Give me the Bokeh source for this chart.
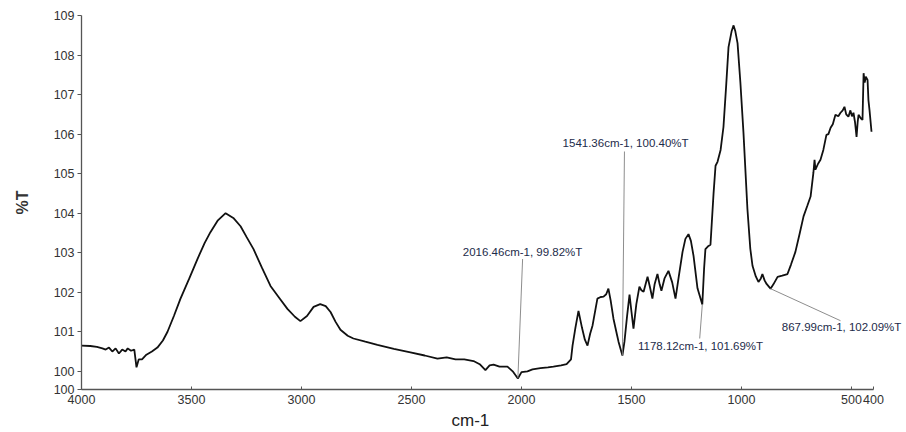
from bokeh.plotting import figure
from bokeh.models import Range1d, FixedTicker, PrintfTickFormatter, Label
from bokeh.embed import file_html
from bokeh.resources import INLINE

# ---- spectrum data (wavenumber cm-1, %T) ----
wavenumber = [
    4000, 3960, 3930, 3905, 3890, 3875, 3860, 3845, 3830, 3815, 3800, 3790, 3775, 3760,
    3750, 3740, 3725, 3705, 3680, 3655, 3630, 3609, 3580, 3550, 3510, 3473, 3440, 3414,
    3380, 3345, 3310, 3277, 3250, 3218, 3180, 3141, 3100, 3064, 3030, 3005, 2975, 2945,
    2915, 2890, 2868, 2845, 2823, 2790, 2764, 2710, 2655, 2580, 2505, 2440, 2382, 2340,
    2300, 2260, 2218, 2190, 2164, 2145, 2127, 2100, 2064, 2040, 2016.46, 2000, 1973, 1950,
    1914, 1880, 1855, 1820, 1795, 1775, 1768, 1755, 1741, 1725, 1712, 1700, 1688, 1677,
    1655, 1640, 1627, 1615, 1605, 1595, 1582, 1565, 1559, 1541.36, 1532, 1520, 1509, 1500,
    1491, 1478, 1464, 1455, 1445, 1427, 1415, 1405, 1395, 1382, 1372, 1364, 1350, 1332,
    1315, 1300, 1285, 1268, 1255, 1241, 1230, 1218, 1200, 1178.12, 1170, 1164, 1150, 1141,
    1127, 1118, 1109, 1095, 1082, 1070, 1059, 1045, 1036, 1028, 1018, 1005, 991, 973,
    960, 950, 935, 923, 912, 905, 895, 886, 867.99, 855, 836, 815, 791, 775,
    755, 735, 718, 700, 686, 673, 668, 664, 652, 641, 628, 614, 605, 595,
    585, 573, 560, 550, 540, 532, 524, 514, 505, 498, 491, 484, 477, 472,
    468, 458, 450, 445, 440, 435, 427, 423, 418, 409,
]
transmittance = [
    100.65, 100.64, 100.62, 100.58, 100.55, 100.60, 100.50, 100.58, 100.45, 100.55, 100.50, 100.58, 100.52, 100.55,
    100.10, 100.30, 100.30, 100.42, 100.50, 100.60, 100.78, 101.00, 101.40, 101.84, 102.35, 102.84, 103.25, 103.52,
    103.82, 104.00, 103.88, 103.67, 103.40, 103.09, 102.62, 102.16, 101.85, 101.58, 101.38, 101.27, 101.40, 101.63,
    101.70, 101.65, 101.50, 101.25, 101.05, 100.90, 100.83, 100.75, 100.67, 100.57, 100.48, 100.40, 100.32, 100.35,
    100.30, 100.30, 100.26, 100.18, 100.03, 100.15, 100.17, 100.12, 100.12, 100.00, 99.82, 99.98, 100.00, 100.05,
    100.08, 100.10, 100.12, 100.15, 100.18, 100.30, 100.65, 101.10, 101.53, 101.10, 100.80, 100.65, 100.95, 101.16,
    101.84, 101.88, 101.89, 101.95, 102.09, 101.80, 101.33, 100.90, 100.75, 100.40, 100.75, 101.40, 101.94, 101.50,
    101.08, 101.70, 102.14, 102.05, 102.01, 102.39, 102.10, 101.84, 102.20, 102.46, 102.20, 102.04, 102.35, 102.54,
    102.25, 101.84, 102.40, 103.02, 103.35, 103.47, 103.30, 102.92, 102.10, 101.69, 102.60, 103.09, 103.17, 103.20,
    104.50, 105.20, 105.30, 105.60, 106.18, 107.20, 108.20, 108.60, 108.75, 108.60, 108.30, 107.30, 106.03, 104.10,
    103.10, 102.67, 102.40, 102.26, 102.35, 102.46, 102.30, 102.21, 102.09, 102.20, 102.39, 102.42, 102.46, 102.70,
    103.02, 103.50, 103.92, 104.20, 104.42, 105.03, 105.35, 105.10, 105.25, 105.35, 105.60, 105.98, 106.00, 106.16,
    106.25, 106.49, 106.45, 106.54, 106.60, 106.69, 106.50, 106.44, 106.60, 106.45, 106.54, 106.30, 105.93, 106.30,
    106.49, 106.40, 106.36, 107.54, 107.30, 107.45, 107.37, 106.86, 106.60, 106.06,
]

# ---- peak annotations ----
peak_x = [1541.36, 2016.46, 1178.12, 867.99]
peak_y = [100.40, 99.82, 101.69, 102.09]
peak_labels = ["1541.36cm-1, 100.40%T", "2016.46cm-1, 99.82%T",
               "1178.12cm-1, 101.69%T", "867.99cm-1, 102.09%T"]
label_x = [1527, 1995, 1186, 545]
label_y = [105.78, 103.02, 100.63, 101.11]
leader_end_x = [1532, 1995, 1190, 550]
leader_end_y = [105.56, 102.84, 100.83, 101.28]

x_ticks = [4000, 3500, 3000, 2500, 2000, 1500, 1000, 500, 400]
y_ticks = [99.54, 100, 101, 102, 103, 104, 105, 106, 107, 108, 109]
x_axis_bounds = (400, 4000)

FONT = "Liberation Sans"

# frame runs to the right edge so the last annotation is not clipped;
# the axis line itself stops at 400 cm-1
p = figure(width=906, height=432, output_backend="svg", toolbar_location=None,
           x_range=Range1d(4000, 250), y_range=Range1d(99.54, 109),
           min_border_left=81, min_border_right=0, min_border_top=15, min_border_bottom=41)
p.outline_line_color = None
p.xgrid.grid_line_color = None
p.ygrid.grid_line_color = None
p.background_fill_color = "white"
p.border_fill_color = "white"

p.line(wavenumber, transmittance, line_color="#111111", line_width=1.8)

p.segment(x0=peak_x, y0=peak_y, x1=leader_end_x, y1=leader_end_y,
          line_color="#808080", line_width=0.9)

for lx, ly, txt in zip(label_x, label_y, peak_labels):
    p.add_layout(Label(x=lx, y=ly, text=txt, text_align="center",
                       text_baseline="middle", text_font_size="11.5px",
                       text_font=FONT, text_color="#1c2b4a"))

xa = p.xaxis[0]
xa.bounds = x_axis_bounds
xa.ticker = FixedTicker(ticks=x_ticks)
# trailing no-break spaces keep the title centred under the 4000-400 span
xa.axis_label = "cm-1" + "\u00a0" * 10
xa.axis_label_text_font = FONT
xa.axis_label_text_font_style = "normal"
xa.axis_label_text_font_size = "17px"
xa.axis_label_text_color = "#222222"
xa.axis_label_standoff = 4
xa.major_label_text_font = FONT
xa.major_label_text_font_size = "12.5px"
xa.major_label_text_color = "#333333"
xa.major_label_standoff = 5
xa.major_tick_in = 3
xa.major_tick_out = 0
xa.minor_tick_line_color = None
xa.axis_line_color = "#555555"
xa.axis_line_width = 1.3
xa.major_tick_line_color = "#555555"

ya = p.yaxis[0]
ya.ticker = FixedTicker(ticks=y_ticks)
ya.formatter = PrintfTickFormatter(format="%.0f")
ya.axis_label = "%T"
ya.axis_label_text_font = FONT
ya.axis_label_text_font_style = "bold"
ya.axis_label_text_font_size = "16px"
ya.axis_label_text_color = "#333333"
ya.axis_label_standoff = 20
ya.major_label_text_font = FONT
ya.major_label_text_font_size = "12.5px"
ya.major_label_text_color = "#333333"
ya.major_label_standoff = 3
ya.major_tick_in = 0
ya.major_tick_out = 4
ya.minor_tick_line_color = None
ya.axis_line_color = "#555555"
ya.axis_line_width = 1.3
ya.major_tick_line_color = "#555555"

open("out.html", "w").write(file_html(p, INLINE))
